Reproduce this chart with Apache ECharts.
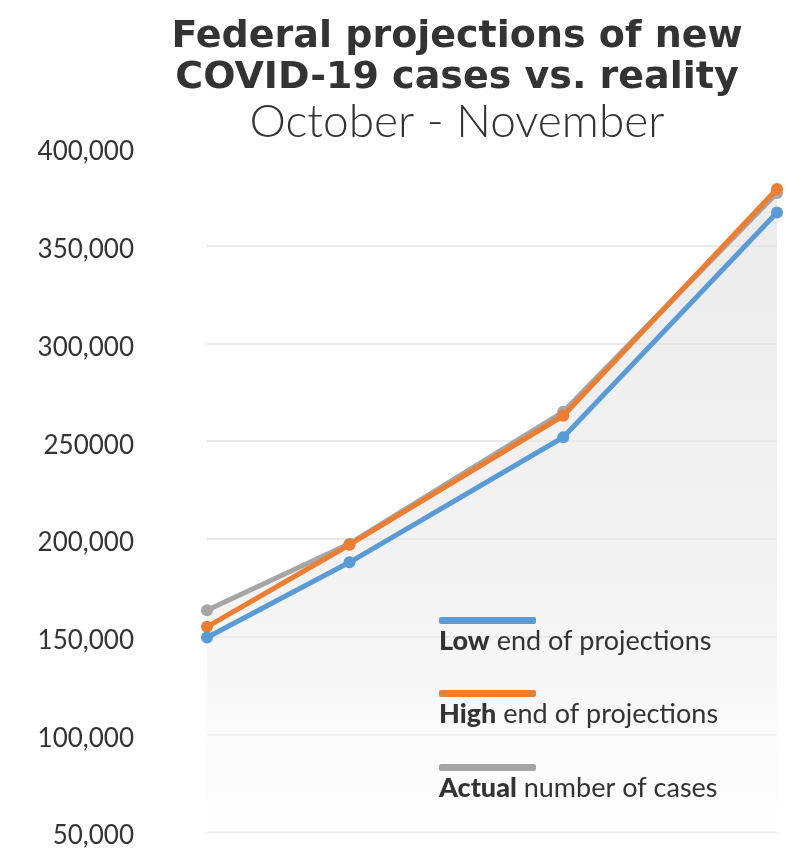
<!DOCTYPE html>
<html>
<head>
<meta charset="utf-8">
<script src="https://cdn.jsdelivr.net/npm/echarts@6/dist/echarts.min.js"></script>
<style>
html,body{margin:0;padding:0;background:#fff;}
#chart{width:805px;height:853px;}
</style>
</head>
<body>
<div id="chart"></div>
<script>
// Data
const weekOffsets = [0, 2, 5, 8];            // relative timing of the four observations
const lowEnd      = [149500, 188000, 252000, 367000];
const highEnd     = [155000, 197000, 263000, 379000];
const actualCases = [163500, 197500, 265000, 377000];
const yTickLabels = ['50,000', '100,000', '150,000', '200,000', '250000', '300,000', '350,000', '400,000'];
const seriesNames = ['Low end of projections', 'High end of projections', 'Actual number of cases'];
const seriesBold  = ['Low', 'High', 'Actual'];
const seriesRest  = [' end of projections', ' end of projections', ' number of cases'];

const colors = ['#5b9bd5', '#ed7d31', '#a5a5a5'];
const textColor = '#333333';

function pairs(ys) { return ys.map((y, i) => [weekOffsets[i], y]); }

const chart = echarts.init(document.getElementById('chart'), null, {renderer: 'canvas'});

const legendGraphics = [];
const legendBarY = [620, 693, 767];
const legendTextY = [645, 718, 792];
seriesNames.forEach((n, i) => {
  legendGraphics.push({
    type: 'rect', left: 439, top: legendBarY[i] - 3,
    shape: {width: 97, height: 7, r: 2},
    style: {fill: colors[i]}, z: 100
  });
  legendGraphics.push({
    type: 'text', left: 439, top: legendTextY[i] - 17, z: 100,
    style: {
      text: '{b|' + seriesBold[i] + '}{r|' + seriesRest[i] + '}',
      rich: {
        b: {fontFamily: 'Lato', fontWeight: 900, fontSize: 27, fill: textColor},
        r: {fontFamily: 'Lato', fontWeight: 'normal', fontSize: 27, fill: textColor}
      }
    }
  });
});

const option = {
  backgroundColor: '#ffffff',
  animation: false,
  title: [
    {
      text: 'Federal projections of new\nCOVID-19 cases vs. reality',
      left: 452, textAlign: 'center', top: 12,
      textStyle: {fontFamily: 'DejaVu Sans', fontWeight: 'bold', fontSize: 38, lineHeight: 41, color: textColor}
    },
    {
      text: 'October - November',
      left: 452, textAlign: 'center', top: 94,
      textStyle: {fontFamily: 'Lato', fontWeight: 300, fontSize: 46, color: textColor}
    }
  ],
  grid: {left: 207, right: 28, top: 148, bottom: 21, containLabel: false},
  xAxis: {
    type: 'value', min: 0, max: 8, show: false
  },
  yAxis: {
    type: 'value', min: 50000, max: 400000, interval: 50000,
    axisLine: {show: false}, axisTick: {show: false},
    splitLine: {show: true, showMaxLine: false, lineStyle: {color: '#e2e2e2', width: 1.5}},
    axisLabel: {
      margin: 73, color: textColor,
      fontFamily: 'Lato', fontSize: 26, verticalAlign: 'top', lineHeight: 8,
      formatter: function (v) { return yTickLabels[Math.round((v - 50000) / 50000)]; }
    }
  },
  series: [
    {
      name: seriesNames[2], type: 'line', data: pairs(actualCases),
      symbol: 'circle', symbolSize: 12, z: 2,
      lineStyle: {color: colors[2], width: 5},
      itemStyle: {color: colors[2]},
      areaStyle: {
        color: new echarts.graphic.LinearGradient(0, 0, 0, 1, [
          {offset: 0, color: 'rgba(222,222,222,0.85)'},
          {offset: 0.6, color: 'rgba(232,232,232,0.75)'},
          {offset: 1, color: 'rgba(255,255,255,0.9)'}
        ])
      }
    },
    {
      name: seriesNames[1], type: 'line', data: pairs(highEnd),
      symbol: 'circle', symbolSize: 12, z: 3,
      lineStyle: {color: colors[1], width: 5},
      itemStyle: {color: colors[1]}
    },
    {
      name: seriesNames[0], type: 'line', data: pairs(lowEnd),
      symbol: 'circle', symbolSize: 12, z: 4,
      lineStyle: {color: colors[0], width: 5},
      itemStyle: {color: colors[0]}
    }
  ],
  graphic: legendGraphics
};
chart.setOption(option);
</script>
</body>
</html>
